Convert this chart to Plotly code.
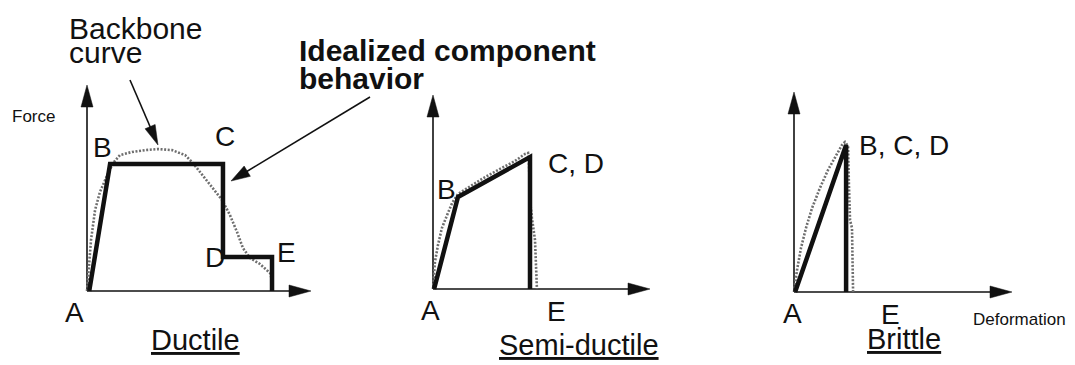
import math
import plotly.graph_objects as go

# ------------------------------------------------------------------
# DATA  (deformation / force in normalised units, each axis = 10 units)
# ------------------------------------------------------------------
panel_titles = ["Ductile", "Semi-ductile", "Brittle"]
axis_length = 10

# Ductile
ductile_ideal_def = [0.1, 1.03, 6.07, 6.07, 8.26, 8.26]
ductile_ideal_force = [0.0, 6.17, 6.17, 1.65, 1.65, 0.0]
ductile_backbone_def = [0.0, 0.09, 0.18, 0.36, 0.58, 0.85, 1.16, 1.47, 2.01, 2.59, 3.17,
                        3.79, 4.38, 4.73, 5.27, 5.71, 6.03, 6.38, 6.70, 6.96, 7.28, 7.72,
                        8.17, 8.26]
ductile_backbone_force = [0.0, 1.26, 2.48, 3.93, 4.81, 5.49, 6.21, 6.60, 6.75, 6.84, 6.89,
                          6.84, 6.60, 6.21, 5.49, 4.90, 4.42, 3.69, 2.86, 2.09, 1.60, 1.31,
                          0.87, 0.53]
ductile_labels = ["A", "B", "C", "D", "E"]

# Semi-ductile
semi_ideal_def = [0.05, 1.15, 4.47, 4.47]
semi_ideal_force = [0.0, 4.74, 6.80, 0.0]
semi_backbone_def = [0.0, 0.09, 0.23, 0.41, 0.65, 0.88, 1.15, 1.71, 2.40, 3.09, 3.78, 4.24,
                     4.38, 4.42, 4.47, 4.56, 4.70, 4.79]
semi_backbone_force = [0.0, 1.39, 2.27, 3.14, 3.81, 4.43, 4.90, 5.31, 5.77, 6.19, 6.60, 6.96,
                       7.01, 6.65, 4.59, 3.66, 2.53, 0.0]
semi_labels = ["A", "B", "C, D", "E"]

# Brittle
brittle_ideal_def = [0.05, 2.39, 2.39]
brittle_ideal_force = [0.0, 7.35, 0.0]
brittle_backbone_def = [0.0, 0.14, 0.32, 0.55, 0.83, 1.19, 1.56, 1.93, 2.20, 2.34, 2.48,
                        2.52, 2.57, 2.66, 2.71]
brittle_backbone_force = [0.0, 1.10, 2.20, 3.20, 4.20, 5.20, 6.10, 6.85, 7.35, 7.50, 7.30,
                          5.35, 3.60, 3.20, 0.0]
brittle_labels = ["A", "B, C, D", "E"]

# ------------------------------------------------------------------
# LAYOUT / STYLE  (pixel geometry of each panel)
# ------------------------------------------------------------------
W, H = 1075, 365
FONT = "Liberation Sans, Arial, Helvetica, sans-serif"
INK = "#111111"
panels = [
    dict(ox=87, oy=291, sx=22.4, sy=20.6),   # origin px and px per unit
    dict(ox=433, oy=289, sx=21.7, sy=19.4),
    dict(ox=794, oy=292, sx=21.8, sy=20.0),
]
label_px = [
    [(74, 312), (102, 147), (225, 136), (215, 257), (286, 252)],
    [(430, 310), (446, 189), (576, 163), (556, 311)],
    [(792, 313), (904, 145), (890, 314)],
]
title_px = [(196, 340), (579, 345), (904, 339)]

fig = go.Figure()


def refs(i):
    return ("x" if i == 0 else f"x{i+1}"), ("y" if i == 0 else f"y{i+1}")


def triangle(i, tip, direction_px, length, half_w):
    """filled arrow head in panel i data coords; direction in pixel space"""
    p = panels[i]
    dx, dy = direction_px
    n = math.hypot(dx, dy)
    dx, dy = dx / n, dy / n
    tx = p["ox"] + tip[0] * p["sx"]
    ty = p["oy"] - tip[1] * p["sy"]
    bx, by = tx - dx * length, ty - dy * length
    nx, ny = -dy, dx
    pts = [(tx, ty), (bx + nx * half_w, by + ny * half_w), (bx - nx * half_w, by - ny * half_w), (tx, ty)]
    xs = [(x - p["ox"]) / p["sx"] for x, _ in pts]
    ys = [(p["oy"] - y) / p["sy"] for _, y in pts]
    xr, yr = refs(i)
    fig.add_trace(go.Scatter(x=xs, y=ys, mode="lines", fill="toself", fillcolor=INK,
                             line=dict(width=0.5, color=INK), xaxis=xr, yaxis=yr,
                             hoverinfo="skip"))


def px_to_data(i, px, py):
    p = panels[i]
    return (px - p["ox"]) / p["sx"], (p["oy"] - py) / p["sy"]


series = [
    (ductile_ideal_def, ductile_ideal_force, ductile_backbone_def, ductile_backbone_force),
    (semi_ideal_def, semi_ideal_force, semi_backbone_def, semi_backbone_force),
    (brittle_ideal_def, brittle_ideal_force, brittle_backbone_def, brittle_backbone_force),
]
all_labels = [ductile_labels, semi_labels, brittle_labels]

for i, (idx, idf, bbx, bbf) in enumerate(series):
    xr, yr = refs(i)
    # axes lines
    fig.add_trace(go.Scatter(x=[0, axis_length - 0.5], y=[0, 0], mode="lines",
                             line=dict(color=INK, width=1.6), xaxis=xr, yaxis=yr, hoverinfo="skip"))
    fig.add_trace(go.Scatter(x=[0, 0], y=[0, axis_length - 0.5], mode="lines",
                             line=dict(color=INK, width=1.6), xaxis=xr, yaxis=yr, hoverinfo="skip"))
    triangle(i, (axis_length, 0), (1, 0), 22, 6)
    triangle(i, (0, axis_length), (0, -1), 22, 6)
    # backbone curve (dotted)
    fig.add_trace(go.Scatter(x=bbx, y=bbf, mode="lines",
                             line=dict(color="#6e6e6e", width=2.6, dash="2px,1.6px"),
                             xaxis=xr, yaxis=yr, hoverinfo="skip"))
    # idealized behaviour (thick)
    fig.add_trace(go.Scatter(x=idx, y=idf, mode="lines",
                             line=dict(color=INK, width=4.5), xaxis=xr, yaxis=yr,
                             hoverinfo="skip"))

# pointer arrows (panel 1 coordinates)
for tail, tip, L, hw in [((130, 80), (158, 145), 20, 5.5), ((370, 97), (231, 181), 19, 6)]:
    t0 = px_to_data(0, *tail)
    t1 = px_to_data(0, *tip)
    dirx, diry = tip[0] - tail[0], tip[1] - tail[1]
    n = math.hypot(dirx, diry)
    stop = px_to_data(0, tip[0] - dirx / n * (L - 2), tip[1] - diry / n * (L - 2))
    fig.add_trace(go.Scatter(x=[t0[0], stop[0]], y=[t0[1], stop[1]], mode="lines",
                             line=dict(color=INK, width=1.6), xaxis="x", yaxis="y",
                             hoverinfo="skip"))
    triangle(0, t1, (dirx, diry), L, hw)

annotations = []


def text(px, py, s, size, xanchor="center", bold=False):
    annotations.append(dict(
        x=px / W, y=1 - py / H, xref="paper", yref="paper", text=s, showarrow=False,
        xanchor=xanchor, yanchor="middle",
        font=dict(family=FONT, size=size, color=INK, weight="bold" if bold else "normal")))


for i in range(3):
    for lab, (px, py) in zip(all_labels[i], label_px[i]):
        text(px, py, lab, 28)
    tx, ty = title_px[i]
    text(tx, ty, f"<u>{panel_titles[i]}</u>", 29)

text(67, 28.5, "Backbone", 30, xanchor="left")
text(67, 52.5, "curve", 30, xanchor="left")
text(297, 50, "Idealized component", 30, xanchor="left", bold=True)
text(297, 78, "behavior", 30, xanchor="left", bold=True)
text(33, 116, "Force", 17)
text(1019, 319, "Deformation", 17)

layout = dict(width=W, height=H, margin=dict(l=0, r=0, t=0, b=0),
              paper_bgcolor="white", plot_bgcolor="white", showlegend=False,
              annotations=annotations)
for i, p in enumerate(panels):
    xk = "xaxis" if i == 0 else f"xaxis{i+1}"
    yk = "yaxis" if i == 0 else f"yaxis{i+1}"
    xrng = [-p["ox"] / p["sx"], (W - p["ox"]) / p["sx"]]
    yrng = [-(H - p["oy"]) / p["sy"], p["oy"] / p["sy"]]
    xa = dict(domain=[0, 1], range=xrng, visible=False, fixedrange=True)
    ya = dict(domain=[0, 1], range=yrng, visible=False, fixedrange=True)
    if i > 0:
        xa.update(overlaying="x", anchor=f"y{i+1}")
        ya.update(overlaying="y", anchor=f"x{i+1}")
    layout[xk] = xa
    layout[yk] = ya

fig.update_layout(**layout)
fig.write_html("out.html", config={"displayModeBar": False},
               post_script="document.body.style.margin='0';document.body.style.overflow='hidden';")
